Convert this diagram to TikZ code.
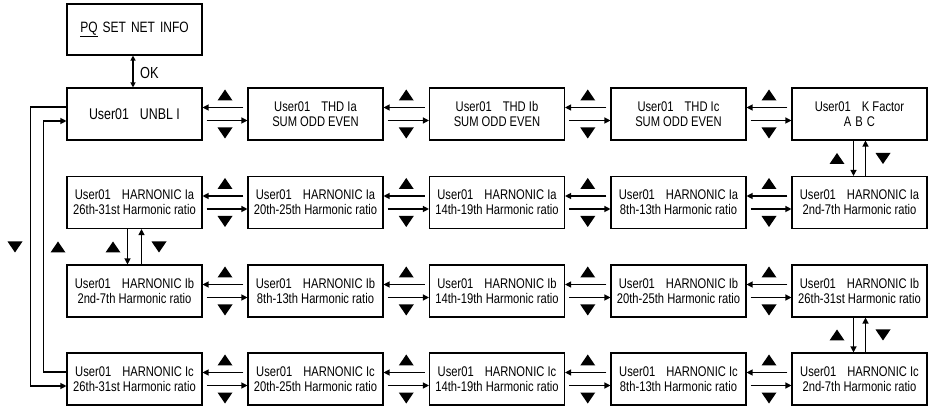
\documentclass[tikz,border=0pt]{standalone}
\usepackage{fontspec}
\setmainfont{Liberation Sans}[FakeStretch=0.8]
\usetikzlibrary{arrows.meta}
\tikzset{
  box/.style={draw, line width=1.1pt, minimum width=135pt, minimum height=52pt,
    align=center, inner sep=0pt, font=\fontsize{14}{15}\selectfont},
  conn/.style={line width=1.2pt, -{Triangle[length=6pt,width=6pt]}},
  upT/.pic={\fill (-7.5,5.5) -- (7.5,5.5) -- (0,-5.5) -- cycle;},
  dnT/.pic={\fill (-7.5,-5.5) -- (7.5,-5.5) -- (0,5.5) -- cycle;}
}
\newcommand{\uu}{User01\hspace{11pt}}
\newcommand{\hr}{Harmonic ratio}
\begin{document}
\begin{tikzpicture}[x=1pt,y=-1pt]
\useasboundingbox (0,0) rectangle (930,406);
% top box
\node[box, minimum height=51pt, font=\fontsize{15}{16}\selectfont] (pq) at (134.5,29.5)
  {\underline{PQ}\hspace{5pt}SET\hspace{5pt}NET\hspace{5pt}INFO};
% row 1
\node[box, font=\fontsize{15.5}{16}\selectfont] (r1c1) at (134.5,114) {\uu UNBL I};
\node[box] (r1c2) at (315.5,114) {\uu THD Ia\\SUM ODD EVEN};
\node[box] (r1c3) at (497,114) {\uu THD Ib\\SUM ODD EVEN};
\node[box] (r1c4) at (678.5,114) {\uu THD Ic\\SUM ODD EVEN};
\node[box] (r1c5) at (859.5,114) {\uu K Factor\\A\hspace{4pt}B\hspace{4pt}C};
% row 2
\node[box] (r2c1) at (134.5,202.5) {\uu HARNONIC Ia\\26th-31st \hr};
\node[box] (r2c2) at (315.5,202.5) {\uu HARNONIC Ia\\20th-25th \hr};
\node[box] (r2c3) at (497,202.5) {\uu HARNONIC Ia\\14th-19th \hr};
\node[box] (r2c4) at (678.5,202.5) {\uu HARNONIC Ia\\8th-13th \hr};
\node[box] (r2c5) at (859.5,202.5) {\uu HARNONIC Ia\\2nd-7th \hr};
% row 3
\node[box] (r3c1) at (134.5,291) {\uu HARNONIC Ib\\2nd-7th \hr};
\node[box] (r3c2) at (315.5,291) {\uu HARNONIC Ib\\8th-13th \hr};
\node[box] (r3c3) at (497,291) {\uu HARNONIC Ib\\14th-19th \hr};
\node[box] (r3c4) at (678.5,291) {\uu HARNONIC Ib\\20th-25th \hr};
\node[box] (r3c5) at (859.5,291) {\uu HARNONIC Ib\\26th-31st \hr};
% row 4
\node[box] (r4c1) at (134.5,379) {\uu HARNONIC Ic\\26th-31st \hr};
\node[box] (r4c2) at (315.5,379) {\uu HARNONIC Ic\\20th-25th \hr};
\node[box] (r4c3) at (497,379) {\uu HARNONIC Ic\\14th-19th \hr};
\node[box] (r4c4) at (678.5,379) {\uu HARNONIC Ic\\8th-13th \hr};
\node[box] (r4c5) at (859.5,379) {\uu HARNONIC Ic\\2nd-7th \hr};
% OK
\draw[line width=1.2pt, {Triangle[length=5pt,width=5pt]}-{Triangle[length=5pt,width=5pt]}]
  ([xshift=-1.5pt]pq.south) -- ([xshift=-1.5pt]r1c1.north);
\node[font=\fontsize{16}{16}\selectfont, anchor=west, inner sep=0pt] (ok) at (140,73) {OK};
% horizontal arrows
\foreach \r/\y in {1/114,2/202.5,3/291,4/379}{
  \foreach \c/\gx in {1/225,2/406.25,3/587.75,4/769}{
    \pgfmathtruncatemacro{\n}{\c+1}
    \draw[conn, shorten <=4pt] ([yshift=6.5pt]r\r c\n.west) -- ([yshift=6.5pt]r\r c\c.east);
    \draw[conn, shorten <=4pt] ([yshift=-6.5pt]r\r c\c.east) -- ([yshift=-6.5pt]r\r c\n.west);
    \pic at (\gx,\y-19) {upT};
    \pic at (\gx,\y+19) {dnT};
  }
}
% vertical links
\draw[conn] ([xshift=-6pt]r1c5.south) -- ([xshift=-6pt]r2c5.north);
\draw[conn] ([xshift=6pt]r2c5.north) -- ([xshift=6pt]r1c5.south);
\pic at (837,158.5) {upT};
\pic at (883,158.5) {dnT};
\draw[conn] ([xshift=-7pt]r2c1.south) -- ([xshift=-7pt]r3c1.north);
\draw[conn] ([xshift=7pt]r3c1.north) -- ([xshift=7pt]r2c1.south);
\pic at (113,247) {upT};
\pic at (159,247) {dnT};
\draw[conn] ([xshift=-6pt]r3c5.south) -- ([xshift=-6pt]r4c5.north);
\draw[conn] ([xshift=6pt]r4c5.north) -- ([xshift=6pt]r3c5.south);
\pic at (837,335) {upT};
\pic at (883,335) {dnT};
% left loop
\draw[conn] ([yshift=7pt]r1c1.west) -- ++(-36,0) |- ([yshift=-7pt]r4c1.west);
\draw[conn] ([yshift=7pt]r4c1.west) -- ++(-23,0) |- ([yshift=-7pt]r1c1.west);
\pic at (15,247) {dnT};
\pic at (58,247) {upT};
\end{tikzpicture}
\end{document}
